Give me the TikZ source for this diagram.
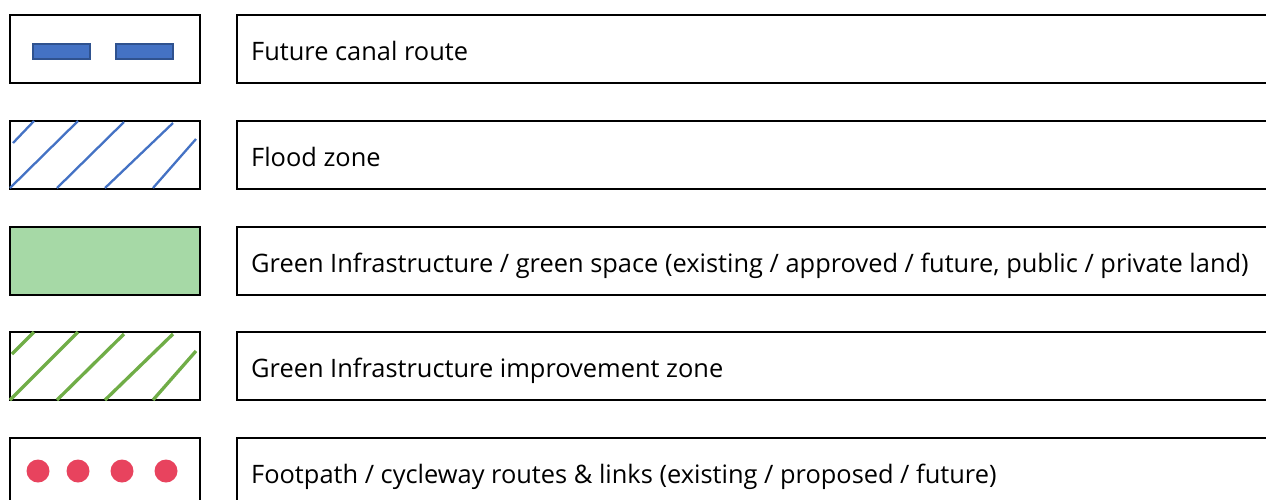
\documentclass[tikz,border=0pt]{standalone}
\usepackage{fontspec}
\setmainfont{Open Sans}
\definecolor{canalfill}{RGB}{68,114,196}
\definecolor{canaledge}{RGB}{47,82,143}
\definecolor{floodblue}{RGB}{68,114,196}
\definecolor{gifill}{RGB}{166,217,166}
\definecolor{gigreen}{RGB}{112,173,71}
\definecolor{pathred}{RGB}{232,67,94}
\tikzset{
  keybox/.style={draw=black, line width=2pt, minimum width=190pt, minimum height=68pt, inner sep=0pt, anchor=north west},
  labelbox/.style={draw=black, line width=2pt, minimum width=1060pt, minimum height=68pt, inner sep=0pt, anchor=north west},
  labeltext/.style={anchor=base west, inner sep=0pt, font=\fontsize{25.4}{30}\selectfont},
  dashbar/.style={fill=canalfill, draw=canaledge, line width=1.5pt},
  floodline/.style={draw=floodblue, line width=2.3pt},
  giline/.style={draw=gigreen, line width=3.3pt},
  dot/.style={circle, fill=pathred, minimum size=23pt, inner sep=0pt}
}
\begin{document}
\begin{tikzpicture}[x=1pt,y=-1pt]
\useasboundingbox (0,0) rectangle (1266,499);
\clip (0,0) rectangle (1266,499);
% Row 1
\node[keybox] (k1) at (9,14) {};
\node[labelbox] (b1) at (236,14) {};
\node[labeltext] (t1) at (251,60) {Future canal route};
\draw[dashbar] (33,44) rectangle (90,59);
\draw[dashbar] (116,44) rectangle (173,59);
% Row 2
\node[keybox] (k2) at (9,120) {};
\node[labelbox] (b2) at (236,120) {};
\node[labeltext] (t2) at (251,166) {Flood zone};
\draw[floodline] (13,143) -- (34,121);
\draw[floodline] (10,188) -- (78,121);
\draw[floodline] (57,188) -- (124,122);
\draw[floodline] (105,188) -- (173,123);
\draw[floodline] (153,188) -- (196,139);
% Row 3
\node[keybox, fill=gifill] (k3) at (9,226) {};
\node[labelbox] (b3) at (236,226) {};
\node[labeltext] (t3) at (251,272) {Green Infrastructure / green space (existing / approved / future, public / private land)};
% Row 4
\node[keybox] (k4) at (9,331) {};
\node[labelbox] (b4) at (236,331) {};
\node[labeltext] (t4) at (251,377) {Green Infrastructure improvement zone};
\draw[giline] (12,354) -- (34,332);
\draw[giline] (10,400) -- (78,332);
\draw[giline] (57,400) -- (124,334);
\draw[giline] (105,400) -- (173,334);
\draw[giline] (153,400) -- (196,351);
% Row 5
\node[keybox] (k5) at (9,437) {};
\node[labelbox] (b5) at (236,437) {};
\node[labeltext] (t5) at (251,483) {Footpath / cycleway routes \& links (existing / proposed / future)};
\node[dot] (d1) at (38,471) {};
\node[dot] (d2) at (78,471) {};
\node[dot] (d3) at (122,471) {};
\node[dot] (d4) at (166,471) {};
\end{tikzpicture}
\end{document}
